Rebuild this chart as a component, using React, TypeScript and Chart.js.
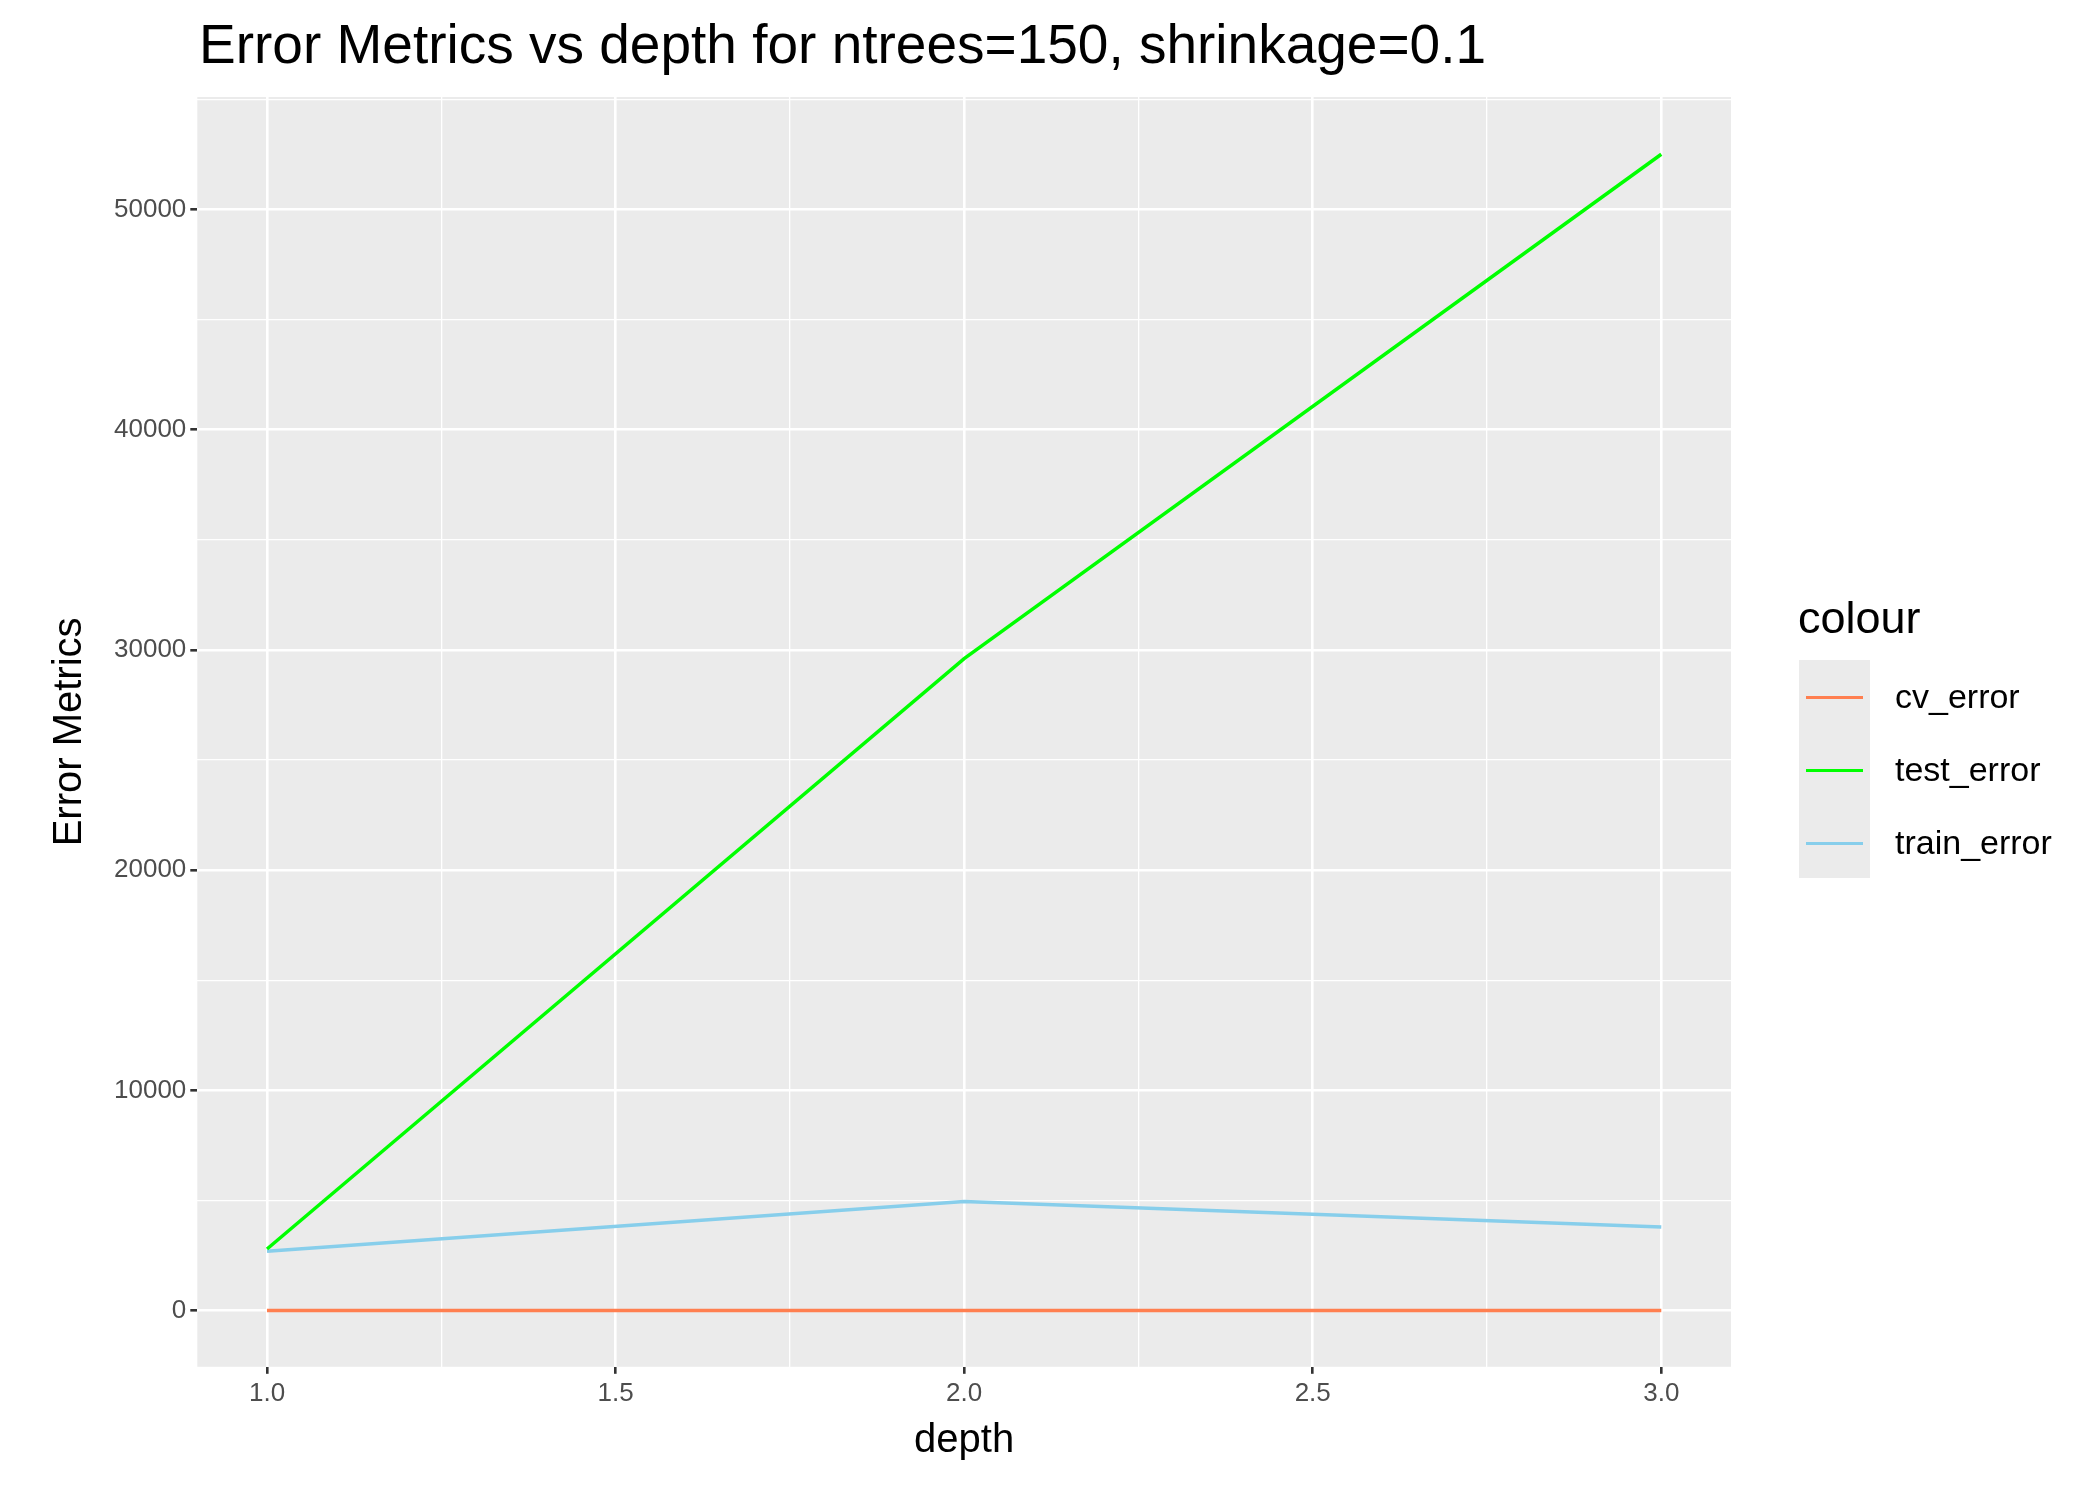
import { useEffect, useRef } from 'react'
import { Chart, registerables } from 'chart.js'

Chart.register(...registerables)

const depths = [1, 2, 3]
const cvError = [5, 5, 5]
const testError = [2800, 29600, 52500]
const trainError = [2700, 4950, 3800]
const seriesNames = ['cv_error', 'test_error', 'train_error']
const seriesColors = ['#FF7F50', '#00FF00', '#87CEEB']
const xTicks = [1, 1.25, 1.5, 1.75, 2, 2.25, 2.5, 2.75, 3]
const yTicks = [0, 5000, 10000, 15000, 20000, 25000, 30000, 35000, 40000, 45000, 50000, 55000]

const panelBg = {
  id: 'panelBg',
  beforeDraw(chart: Chart) {
    const { ctx, chartArea: a } = chart
    ctx.save()
    ctx.fillStyle = '#EBEBEB'
    ctx.fillRect(a.left, a.top, a.right - a.left, a.bottom - a.top)
    ctx.restore()
  },
}

export default function App() {
  const canvasRef = useRef<HTMLCanvasElement>(null)

  useEffect(() => {
    if (!canvasRef.current) return
    const toPts = (ys: number[]) => depths.map((x, i) => ({ x, y: ys[i] }))
    const allSeries = [cvError, testError, trainError]
    const font = { family: 'Liberation Sans, Arial, sans-serif' }
    const chart = new Chart(canvasRef.current, {
      type: 'line',
      data: {
        datasets: allSeries.map((ys, i) => ({
          label: seriesNames[i],
          data: toPts(ys),
          borderColor: seriesColors[i],
          borderWidth: 3.5,
          pointRadius: 0,
          tension: 0,
        })),
      },
      options: {
        animation: false,
        responsive: false,
        layout: { padding: { top: 97, right: 369, bottom: 34, left: 46 } },
        plugins: { legend: { display: false }, tooltip: { enabled: false } },
        scales: {
          x: {
            type: 'linear',
            min: 0.9,
            max: 3.1,
            afterBuildTicks: (s: any) => { s.ticks = xTicks.map(v => ({ value: v })) },
            ticks: {
              color: '#4D4D4D',
              font: { ...font, size: 26 },
              padding: 4,
              autoSkip: false,
              maxRotation: 0,
              callback: (v: any) => (Number(v) * 2) % 1 === 0 ? Number(v).toFixed(1) : '',
            },
            grid: {
              color: '#FFFFFF',
              lineWidth: (c: any) => (c.tick && (c.tick.value * 2) % 1 === 0 ? 2.6 : 1.3),
              tickColor: (c: any) => (c.tick && (c.tick.value * 2) % 1 === 0 ? '#333333' : 'rgba(0,0,0,0)'),
              tickLength: 7,
            },
            border: { display: false },
            title: { display: true, text: 'depth', color: '#000', font: { ...font, size: 40 }, padding: { top: 4, bottom: 0 } },
          },
          y: {
            min: -2550,
            max: 55100,
            afterBuildTicks: (s: any) => { s.ticks = yTicks.map(v => ({ value: v })) },
            ticks: {
              color: '#4D4D4D',
              font: { ...font, size: 26 },
              padding: 4,
              autoSkip: false,
              callback: (v: any) => (Number(v) % 10000 === 0 ? String(v) : ''),
            },
            grid: {
              color: '#FFFFFF',
              lineWidth: (c: any) => (c.tick && c.tick.value % 10000 === 0 ? 2.6 : 1.3),
              tickColor: (c: any) => (c.tick && c.tick.value % 10000 === 0 ? '#333333' : 'rgba(0,0,0,0)'),
              tickLength: 7,
            },
            border: { display: false },
            title: { display: true, text: 'Error Metrics', color: '#000', font: { ...font, size: 40 }, padding: { top: 0, bottom: 16 } },
          },
        },
      },
      plugins: [panelBg],
    } as any)
    return () => chart.destroy()
  }, [])

  return (
    <div style={{ position: 'fixed', left: 0, top: 0, width: 2100, height: 1499, background: '#fff', fontFamily: 'Liberation Sans, Arial, sans-serif' }}>
      <canvas ref={canvasRef} width={2100} height={1499} style={{ position: 'absolute', left: 0, top: 0 }} />
      <div style={{ position: 'absolute', left: 199, top: 12, fontSize: 55, color: '#000' }}>
        Error Metrics vs depth for ntrees=150, shrinkage=0.1
      </div>
      <div style={{ position: 'absolute', left: 1798, top: 592, fontSize: 45, color: '#000' }}>colour</div>
      <div style={{ position: 'absolute', left: 1799, top: 660, width: 71, height: 218, background: '#EBEBEB' }} />
      {seriesNames.map((n, i) => (
        <div key={n}>
          <div style={{ position: 'absolute', left: 1806, top: 696 + i * 73, width: 57, height: 3, background: seriesColors[i] }} />
          <div style={{ position: 'absolute', left: 1895, top: 677 + i * 73, fontSize: 34, color: '#000' }}>{n}</div>
        </div>
      ))}
    </div>
  )
}
